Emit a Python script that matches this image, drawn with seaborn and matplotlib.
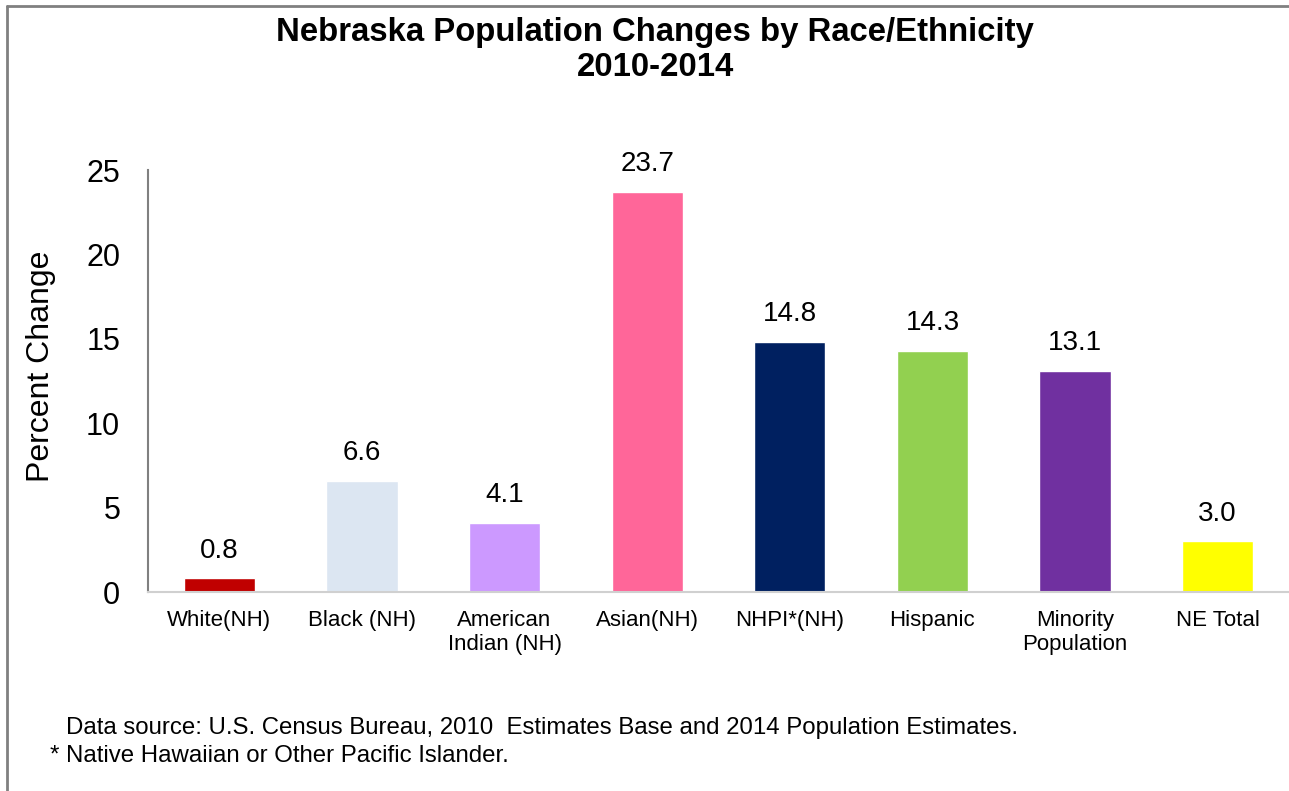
import matplotlib
matplotlib.use("Agg")
import matplotlib.pyplot as plt
import seaborn as sns
import pandas as pd
from matplotlib.lines import Line2D

categories = ["White(NH)", "Black (NH)", "American\nIndian (NH)", "Asian(NH)",
              "NHPI*(NH)", "Hispanic", "Minority\nPopulation", "NE Total"]
pct_change = [0.8, 6.6, 4.1, 23.7, 14.8, 14.3, 13.1, 3.0]
bar_colors = ["#C00000", "#DCE6F2", "#CC99FF", "#FF6699",
              "#002060", "#92D050", "#7030A0", "#FFFF00"]

df = pd.DataFrame({"group": categories, "change": pct_change})

sns.set_style("white")
plt.rcParams["font.family"] = ["Liberation Sans", "DejaVu Sans"]
plt.rcParams["text.color"] = "black"
plt.rcParams["axes.labelcolor"] = "black"
plt.rcParams["xtick.color"] = "black"
plt.rcParams["ytick.color"] = "black"

fig = plt.figure(figsize=(12.89, 7.91), dpi=100)
ax = fig.add_axes([148 / 1289, 199 / 791, 1141 / 1289, 422 / 791])

sns.barplot(data=df, x="group", y="change", hue="group", palette=bar_colors,
            width=0.5, legend=False, ax=ax, saturation=1)

for i, v in enumerate(pct_change):
    ax.text(i, v + 1.65, f"{v:.1f}", ha="center", va="center", fontsize=20)

ax.set_ylim(0, 25)
ax.set_xlim(-0.5, 7.5)
ax.set_yticks([0, 5, 10, 15, 20, 25])
ax.tick_params(axis="y", labelsize=22, length=7, width=1.5, color="#808080",
               labelcolor="black", pad=13)
ax.tick_params(axis="x", labelsize=16, length=0, pad=13, labelcolor="black")
ax.set_xlabel("")
ax.set_ylabel("Percent Change", fontsize=23)
ax.yaxis.set_label_coords(-0.081, 0.535)

for s in ["top", "right"]:
    ax.spines[s].set_visible(False)
ax.spines["left"].set_color("#808080")
ax.spines["left"].set_linewidth(1.5)
ax.spines["bottom"].set_color("#D0D0D0")
ax.spines["bottom"].set_linewidth(1.5)

fig.text(655 / 1289, 1 - 50 / 791, "Nebraska Population Changes by Race/Ethnicity\n2010-2014",
         ha="center", va="center", fontsize=23.7, fontweight="bold", linespacing=1.2)

fig.text(66 / 1289, 1 - 728 / 791,
         "Data source: U.S. Census Bureau, 2010  Estimates Base and 2014 Population Estimates.",
         ha="left", va="center", fontsize=17.3)
fig.text(50 / 1289, 1 - 756 / 791, "* Native Hawaiian or Other Pacific Islander.",
         ha="left", va="center", fontsize=17.3)

# outer frame (left and top only)
fig.add_artist(Line2D([7 / 1289, 7 / 1289], [0, 1 - 6 / 791], color="#808080", lw=2,
                      transform=fig.transFigure))
fig.add_artist(Line2D([7 / 1289, 1], [1 - 6 / 791, 1 - 6 / 791], color="#808080", lw=2,
                      transform=fig.transFigure))

fig.savefig("out.png", dpi=100)
